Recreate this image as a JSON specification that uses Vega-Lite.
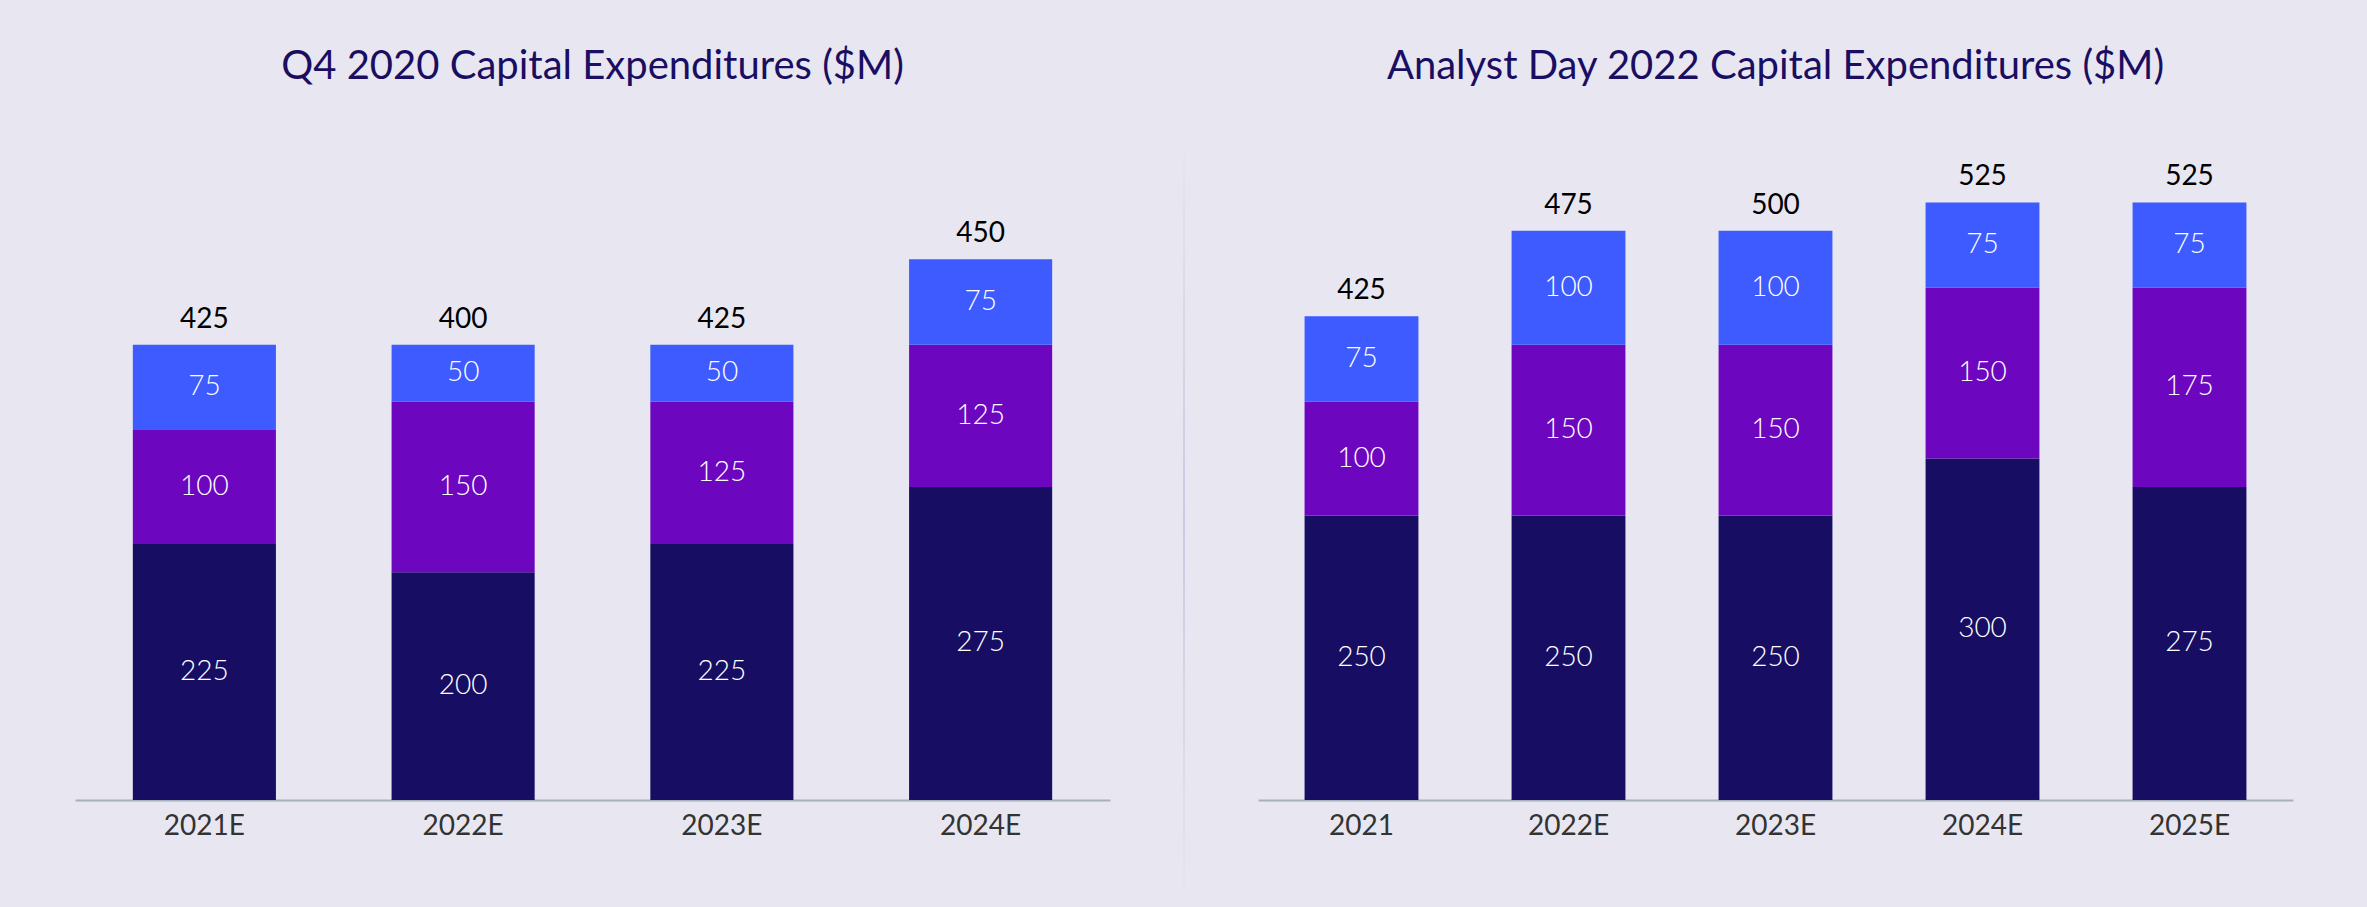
{
  "$schema": "https://vega.github.io/schema/vega-lite/v6.json",
  "background": "#E8E7F1",
  "padding": {"left": 75, "top": 47, "right": 75, "bottom": 60},
  "spacing": 73,
  "datasets": {
    "q4_2020": [
      {"year": "2021E", "segment": "Segment 1", "value": 225, "total": 425},
      {"year": "2021E", "segment": "Segment 2", "value": 100, "total": 425},
      {"year": "2021E", "segment": "Segment 3", "value": 75, "total": 425},
      {"year": "2022E", "segment": "Segment 1", "value": 200, "total": 400},
      {"year": "2022E", "segment": "Segment 2", "value": 150, "total": 400},
      {"year": "2022E", "segment": "Segment 3", "value": 50, "total": 400},
      {"year": "2023E", "segment": "Segment 1", "value": 225, "total": 425},
      {"year": "2023E", "segment": "Segment 2", "value": 125, "total": 425},
      {"year": "2023E", "segment": "Segment 3", "value": 50, "total": 425},
      {"year": "2024E", "segment": "Segment 1", "value": 275, "total": 450},
      {"year": "2024E", "segment": "Segment 2", "value": 125, "total": 450},
      {"year": "2024E", "segment": "Segment 3", "value": 75, "total": 450}
    ],
    "analyst_day_2022": [
      {"year": "2021", "segment": "Segment 1", "value": 250, "total": 425},
      {"year": "2021", "segment": "Segment 2", "value": 100, "total": 425},
      {"year": "2021", "segment": "Segment 3", "value": 75, "total": 425},
      {"year": "2022E", "segment": "Segment 1", "value": 250, "total": 475},
      {"year": "2022E", "segment": "Segment 2", "value": 150, "total": 475},
      {"year": "2022E", "segment": "Segment 3", "value": 100, "total": 475},
      {"year": "2023E", "segment": "Segment 1", "value": 250, "total": 500},
      {"year": "2023E", "segment": "Segment 2", "value": 150, "total": 500},
      {"year": "2023E", "segment": "Segment 3", "value": 100, "total": 500},
      {"year": "2024E", "segment": "Segment 1", "value": 300, "total": 525},
      {"year": "2024E", "segment": "Segment 2", "value": 150, "total": 525},
      {"year": "2024E", "segment": "Segment 3", "value": 75, "total": 525},
      {"year": "2025E", "segment": "Segment 1", "value": 275, "total": 525},
      {"year": "2025E", "segment": "Segment 2", "value": 175, "total": 525},
      {"year": "2025E", "segment": "Segment 3", "value": 75, "total": 525}
    ],
    "divider": [{"name": "divider"}]
  },
  "hconcat": [
    {
      "width": 1035,
      "height": 683,
      "title": {"text": "Q4 2020 Capital Expenditures ($M)"},
      "data": {"name": "q4_2020"},
      "encoding": {
        "x": {"field": "year", "type": "nominal", "sort": null, "title": null,
              "scale": {"paddingInner": 0.447, "paddingOuter": 0.2235}}
      },
      "layer": [
        {
          "mark": {"type": "bar"},
          "encoding": {
            "y": {"field": "value", "type": "quantitative", "stack": "zero", "scale": {"domain": [0, 600]}, "axis": null},
            "color": {"field": "segment", "type": "nominal", "legend": null,
                      "scale": {"domain": ["Segment 1", "Segment 2", "Segment 3"], "range": ["#170E63", "#6C06BF", "#3D5BFE"]}},
            "order": {"field": "segment", "sort": "ascending"}
          }
        },
        {
          "mark": {"type": "text", "color": "#FFFFFF", "font": "Lato", "fontWeight": 300, "fontSize": 28, "baseline": "middle"},
          "encoding": {
            "y": {"field": "value", "type": "quantitative", "stack": "zero", "bandPosition": 0.5},
            "detail": {"field": "segment"},
            "order": {"field": "segment", "sort": "ascending"},
            "text": {"field": "value", "type": "quantitative"}
          }
        },
        {
          "mark": {"type": "text", "color": "#000000", "font": "Lato", "fontWeight": 400, "fontSize": 28, "baseline": "alphabetic", "dy": -17},
          "encoding": {
            "y": {"aggregate": "sum", "field": "value", "type": "quantitative"},
            "text": {"aggregate": "max", "field": "total", "type": "quantitative"}
          }
        }
      ]
    },
    {
      "width": 2,
      "height": 810,
      "data": {"name": "divider"},
      "mark": {"type": "rect", "color": {"gradient": "linear", "x1": 0, "y1": 0, "x2": 0, "y2": 1,
        "stops": [{"offset": 0, "color": "#E8E7F1"}, {"offset": 0.5, "color": "#CBC9DE"}, {"offset": 1, "color": "#E8E7F1"}]}},
      "encoding": {}
    },
    {
      "width": 1035,
      "height": 683,
      "title": {"text": "Analyst Day 2022 Capital Expenditures ($M)"},
      "data": {"name": "analyst_day_2022"},
      "encoding": {
        "x": {"field": "year", "type": "nominal", "sort": null, "title": null,
              "scale": {"paddingInner": 0.45, "paddingOuter": 0.225}}
      },
      "layer": [
        {
          "mark": {"type": "bar"},
          "encoding": {
            "y": {"field": "value", "type": "quantitative", "stack": "zero", "scale": {"domain": [0, 600]}, "axis": null},
            "color": {"field": "segment", "type": "nominal", "legend": null,
                      "scale": {"domain": ["Segment 1", "Segment 2", "Segment 3"], "range": ["#170E63", "#6C06BF", "#3D5BFE"]}},
            "order": {"field": "segment", "sort": "ascending"}
          }
        },
        {
          "mark": {"type": "text", "color": "#FFFFFF", "font": "Lato", "fontWeight": 300, "fontSize": 28, "baseline": "middle"},
          "encoding": {
            "y": {"field": "value", "type": "quantitative", "stack": "zero", "bandPosition": 0.5},
            "detail": {"field": "segment"},
            "order": {"field": "segment", "sort": "ascending"},
            "text": {"field": "value", "type": "quantitative"}
          }
        },
        {
          "mark": {"type": "text", "color": "#000000", "font": "Lato", "fontWeight": 400, "fontSize": 28, "baseline": "alphabetic", "dy": -17},
          "encoding": {
            "y": {"aggregate": "sum", "field": "value", "type": "quantitative"},
            "text": {"aggregate": "max", "field": "total", "type": "quantitative"}
          }
        }
      ]
    }
  ],
  "config": {
    "view": {"stroke": null},
    "title": {"font": "Lato", "fontSize": 40, "fontWeight": 400, "color": "#1A0E63", "anchor": "middle", "offset": 30},
    "axisX": {"labelAngle": 0, "ticks": false, "domainColor": "#A8B0BE", "domainWidth": 2, "labelFont": "Lato", "labelFontSize": 28, "labelColor": "#333333", "labelPadding": 12, "grid": false}
  }
}
